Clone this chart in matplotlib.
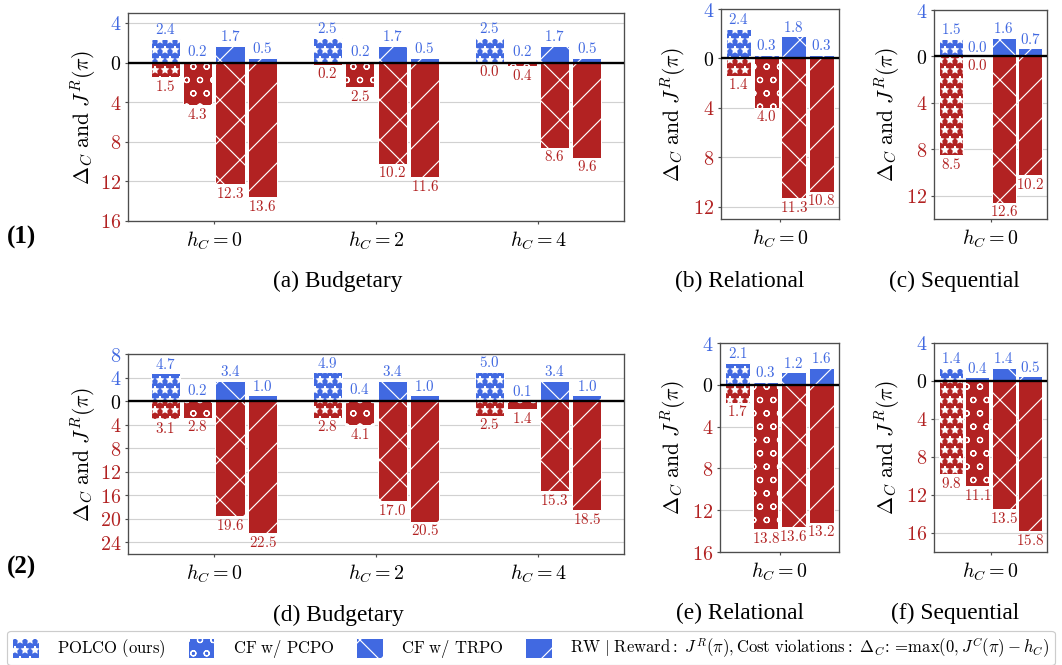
import matplotlib
matplotlib.use("Agg")
import matplotlib.pyplot as plt
import matplotlib.patches as mpatches
import numpy as np

W, H, DPI = 1062, 665, 240

plt.rcParams["mathtext.fontset"] = "cm"
plt.rcParams["hatch.linewidth"] = 0.35
plt.rcParams["axes.linewidth"] = 0.4

blue = "#4169E1"
red = "#B22222"

methods = ["POLCO (ours)", "CF w/ PCPO", "CF w/ TRPO", "RW"]
hatches = ["****", "ooo", "xx", "//"]

# row (1)
budget1_groups = [0, 2, 4]
budget1_reward = [[2.4, 2.5, 2.5], [0.2, 0.2, 0.2], [1.7, 1.7, 1.7], [0.5, 0.5, 0.5]]
budget1_cost = [[1.5, 0.2, 0.0], [4.3, 2.5, 0.4], [12.3, 10.2, 8.6], [13.6, 11.6, 9.6]]
relational1_reward = [[2.4], [0.3], [1.8], [0.3]]
relational1_cost = [[1.4], [4.0], [11.3], [10.8]]
sequential1_reward = [[1.5], [0.0], [1.6], [0.7]]
sequential1_cost = [[8.5], [0.0], [12.6], [10.2]]

# row (2)
budget2_groups = [0, 2, 4]
budget2_reward = [[4.7, 4.9, 5.0], [0.2, 0.4, 0.1], [3.4, 3.4, 3.4], [1.0, 1.0, 1.0]]
budget2_cost = [[3.1, 2.8, 2.5], [2.8, 4.1, 1.4], [19.6, 17.0, 15.3], [22.5, 20.5, 18.5]]
relational2_reward = [[2.1], [0.3], [1.2], [1.6]]
relational2_cost = [[1.7], [13.8], [13.6], [13.2]]
sequential2_reward = [[1.4], [0.4], [1.4], [0.5]]
sequential2_cost = [[9.8], [11.1], [13.5], [15.8]]

fig = plt.figure(figsize=(W / DPI, H / DPI), dpi=DPI)


def panel(box, groups, reward, cost, ylim, yticks, ylabel_px):
    l, t, r, b = box
    ax = fig.add_axes([l / W, 1 - b / H, (r - l) / W, (b - t) / H])
    x = np.arange(len(groups))
    for i in range(4):
        pos = x + (i - 1.5) * 0.2
        rv = np.array(reward[i])
        cv = np.array(cost[i])
        ax.bar(pos, rv, 0.18, color=blue, edgecolor="white", hatch=hatches[i], lw=0.3, zorder=2)
        ax.bar(pos, -cv, 0.18, color=red, edgecolor="white", hatch=hatches[i], lw=0.3, zorder=2)
        for p, v in zip(pos, rv):
            ax.annotate(f"${v:.1f}$", (p, v), xytext=(0, 0.5), textcoords="offset points",
                        ha="center", va="bottom", color=blue, fontsize=4.5)
        for p, v in zip(pos, cv):
            ax.annotate(f"${v:.1f}$", (p, -v), xytext=(0, -0.5), textcoords="offset points",
                        ha="center", va="top", color=red, fontsize=4.5)
    ax.axhline(0, color="black", lw=0.7, zorder=3)
    ax.set_ylim(*ylim)
    ax.set_yticks(yticks)
    ax.set_yticklabels([f"${abs(v)}$" for v in yticks])
    for lab, v in zip(ax.get_yticklabels(), yticks):
        lab.set_color(blue if v > 0 else (red if v < 0 else "black"))
    ax.set_xticks(x)
    ax.set_xticklabels([f"$h_C = {g}$" for g in groups])
    ax.yaxis.grid(True, color="0.82", lw=0.35)
    ax.set_axisbelow(True)
    ax.tick_params(axis="y", length=1, width=0.35, pad=1, labelsize=6, color="0.3")
    ax.tick_params(axis="x", length=1, width=0.35, pad=1.5, labelsize=6, color="0.3")
    for s in ax.spines.values():
        s.set_color("0.3")
    ax.set_ylabel(r"$\Delta_C\ \mathrm{and}\ J^R(\pi)$", fontsize=6.5, va="center")
    ax.yaxis.set_label_coords((ylabel_px - l) / (r - l), 0.5)
    return ax


panel((128, 13, 624, 221), budget1_groups, budget1_reward, budget1_cost, (-16, 5), [4, 0, -4, -8, -12, -16], 83)
panel((721, 9, 839, 219), [0], relational1_reward, relational1_cost, (-13, 4), [4, 0, -4, -8, -12], 673)
panel((934, 10, 1047, 219), [0], sequential1_reward, sequential1_cost, (-14, 4), [4, 0, -4, -8, -12], 887)
panel((128, 354, 624, 554), budget2_groups, budget2_reward, budget2_cost, (-26, 8),
      [8, 4, 0, -4, -8, -12, -16, -20, -24], 83)
panel((720, 343, 839, 552), [0], relational2_reward, relational2_cost, (-16, 4), [4, 0, -4, -8, -12, -16], 673)
panel((934, 343, 1047, 552), [0], sequential2_reward, sequential2_cost, (-18, 4), [4, 0, -4, -8, -12, -16], 887)

serif = "Liberation Serif"
for txt, xp, yp in [("(a) Budgetary", 338, 281), ("(b) Relational", 740, 281), ("(c) Sequential", 954, 281),
                    ("(d) Budgetary", 338, 615), ("(e) Relational", 740, 613), ("(f) Sequential", 955, 613)]:
    fig.text(xp / W, 1 - yp / H, txt, fontfamily=serif, fontsize=7, ha="center", va="center")
fig.text(22 / W, 1 - 237 / H, "(1)", fontfamily=serif, fontweight="bold", fontsize=7.5, ha="center", va="center")
fig.text(22 / W, 1 - 567 / H, "(2)", fontfamily=serif, fontweight="bold", fontsize=7.5, ha="center", va="center")

handles = [mpatches.Patch(facecolor=blue, edgecolor="white", hatch=h, lw=0.3) for h in hatches]
labels = [r"$\mathrm{POLCO\ (ours)}$", r"$\mathrm{CF\ w/\ PCPO}$", r"$\mathrm{CF\ w/\ TRPO}$",
          r"$\mathrm{RW}\ |\ \mathrm{Reward:}\ J^R(\pi),\mathrm{Cost\ violations:}\ \Delta_C\!:=\!\max(0, J^C(\pi) - h_C)$"]
leg = fig.legend(handles, labels, loc="center", bbox_to_anchor=(531 / W, 1 - 648 / H), ncol=4, fontsize=5,
                 handlelength=1.6, handleheight=1.45, handletextpad=1.1, columnspacing=1.3,
                 borderpad=0.3, edgecolor="0.8", framealpha=1)
leg.get_frame().set_linewidth(0.35)

fig.savefig("out.png", dpi=DPI)
